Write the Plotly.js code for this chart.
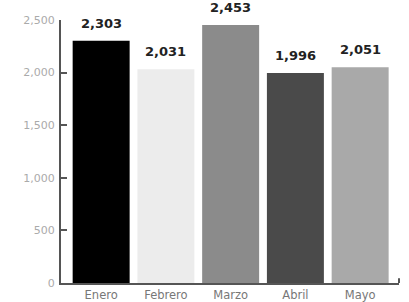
<!DOCTYPE html>
<html><head><meta charset="utf-8">
<script src="https://cdn.plot.ly/plotly-3.0.1.min.js"></script>
<style>html,body{margin:0;padding:0;background:#fff}</style>
</head><body>
<div id="chart" style="width:409px;height:302px"></div>
<script>
const months = ["Enero", "Febrero", "Marzo", "Abril", "Mayo"];
const values = [2303, 2031, 2453, 1996, 2051];
const barColors = ["#000000", "#ececec", "#8b8b8b", "#4a4a4a", "#a9a9a9"];
const yTicks = [0, 500, 1000, 1500, 2000, 2500];

const trace = {
  type: "bar",
  x: months,
  y: values,
  marker: {color: barColors, line: {width: 0}},
  hoverinfo: "none"
};

const annotations = months.map((m, i) => ({
  x: m, y: values[i], xref: "x", yref: "y",
  text: "<b>" + values[i].toLocaleString("en-US") + "</b>",
  showarrow: false, yanchor: "bottom", yshift: 8,
  font: {family: "DejaVu Sans, sans-serif", size: 13, color: "#222"}
}));

const layout = {
  width: 409, height: 302,
  margin: {l: 61, r: 10, t: 20, b: 19},
  paper_bgcolor: "#ffffff", plot_bgcolor: "#ffffff",
  bargap: 0.12,
  showlegend: false,
  separators: ".,",
  xaxis: {
    range: [-0.62, 4.6],
    showline: true, linecolor: "#555", linewidth: 2,
    ticks: "", showgrid: false, zeroline: false,
    tickfont: {family: "DejaVu Sans, sans-serif", size: 11.5, color: "#777"},
    ticklabelstandoff: 0
  },
  yaxis: {
    range: [0, 2500],
    tickvals: yTicks, tickformat: ",",
    showline: true, linecolor: "#555", linewidth: 2,
    ticks: "inside", ticklen: 6, tickwidth: 2, tickcolor: "#555",
    showgrid: false, zeroline: false,
    tickfont: {family: "DejaVu Sans, sans-serif", size: 11, color: "#aaa"},
    ticklabelstandoff: 2
  },
  annotations: annotations,
  shapes: [{
    type: "line", xref: "paper", yref: "paper",
    x0: 1, x1: 1, y0: 0, y1: 0.018,
    line: {color: "#555", width: 2}
  }]
};

Plotly.newPlot("chart", [trace], layout, {displayModeBar: false, staticPlot: true});
</script>
</body></html>
